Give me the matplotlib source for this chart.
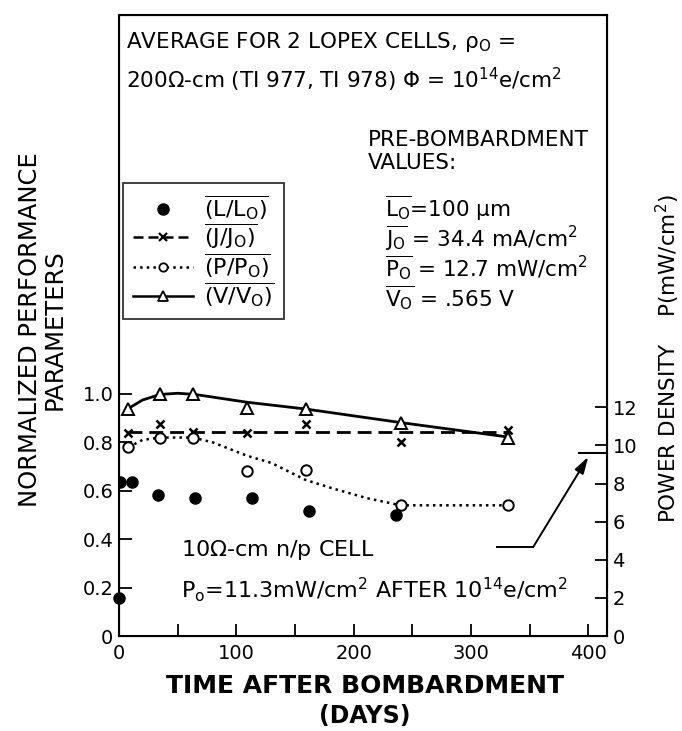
import numpy as np
import matplotlib
matplotlib.use("Agg")
from matplotlib import pyplot as plt
from matplotlib.lines import Line2D

plt.rcParams['font.family'] = ['DejaVu Sans']
plt.rcParams['mathtext.fontset'] = 'custom'
plt.rcParams['mathtext.rm'] = 'DejaVu Sans'
plt.rcParams['mathtext.it'] = 'DejaVu Sans:italic'
plt.rcParams['mathtext.default'] = 'regular'

# data (days after bombardment)
days_L = [1, 11, 33, 65, 113, 162, 236]
L_norm = [0.635, 0.635, 0.581, 0.569, 0.569, 0.515, 0.499]
days_L_ref = [0]
L_ref = [0.157]

days = [8, 35, 63, 109, 159, 240, 332]
J_norm = [0.84, 0.878, 0.845, 0.84, 0.878, 0.80, 0.853]
P_norm = [0.78, 0.82, 0.82, 0.68, 0.685, 0.54, 0.54]
V_norm = [0.94, 1.0, 1.0, 0.944, 0.94, 0.88, 0.82]

# hand drawn fit curves
J_curve_x = [8, 332]
J_curve_y = [0.845, 0.845]
P_curve_x = [8, 20, 35, 63, 80, 109, 130, 159, 182, 211, 240, 332]
P_curve_y = [0.78, 0.81, 0.82, 0.82, 0.80, 0.745, 0.715, 0.645, 0.61, 0.57, 0.54, 0.54]
V_curve_x = [8, 20, 35, 50, 65, 109, 159, 240, 332]
V_curve_y = [0.94, 0.975, 0.998, 1.003, 0.998, 0.966, 0.938, 0.882, 0.822]

P0 = 12.7          # mW/cm2, scale of right axis
P_after = 9.6      # level marked on right axis
xticks = [0, 100, 200, 300, 400]
yticks = [0.2, 0.4, 0.6, 0.8, 1.0]
ytick_labels = ['0.2', '0.4', '0.6', '0.8', '1.0']
rticks = [0, 2, 4, 6, 8, 10, 12]

W, H = 682, 731
def fx(px):
    return px / W
def fy(py):
    return 1 - py / H

fig = plt.figure(figsize=(6.82, 7.31), dpi=100)
ax = fig.add_axes([fx(119), fy(636), (607 - 119) / W, (636 - 15) / H])
ax.set_xlim(0, 416)
ax.set_ylim(0, 2.566)

# curves
ax.plot(V_curve_x, V_curve_y, '-', color='black', lw=2.0)
ax.plot(J_curve_x, J_curve_y, '--', color='black', lw=2.0, dashes=(5, 2.5))
ax.plot(P_curve_x, P_curve_y, ':', color='black', lw=1.8)
# points
ax.plot(days, V_norm, '^', ms=8, mfc='white', mec='black', mew=1.4, ls='none')
ax.plot(days, J_norm, 'x', ms=6, mec='black', mew=1.8, ls='none')
ax.plot(days, P_norm, 'o', ms=7.5, mfc='white', mec='black', mew=1.4, ls='none')
ax.plot(days_L, L_norm, 'o', ms=8, color='black', ls='none')
ax.plot(days_L_ref, L_ref, 'o', ms=8, color='black', ls='none', clip_on=False)

for s in ax.spines.values():
    s.set_linewidth(1.5)
ax.set_xticks(xticks)
ax.set_xticklabels([str(t) for t in xticks])
ax.set_xticks([50, 150, 250, 350], minor=True)
ax.set_yticks([0] + yticks)
ax.set_yticklabels(['0'] + ytick_labels)
ax.tick_params(axis='both', which='both', direction='in', length=9, width=1.3,
               labelsize=14, top=False, right=False)
ax.tick_params(axis='x', pad=6)
ax.tick_params(axis='y', pad=4)

ax2 = ax.twinx()
ax2.set_ylim(0, 2.566 * P0)
ax2.set_yticks(rticks)
ax2.set_yticklabels([str(t) for t in rticks])
ax2.tick_params(axis='y', direction='in', length=9, width=1.3, labelsize=14, pad=4)
ax2.plot([392, 416], [P_after, P_after], color='black', lw=1.5, clip_on=False)

# arrow to the 10 ohm-cm level
ax.plot([322, 353], [0.367, 0.367], color='black', lw=1.4)
ax.annotate('', xy=(400, 0.74), xytext=(353, 0.367),
            arrowprops=dict(arrowstyle='-|>,head_width=0.3,head_length=1.0',
                            color='black', lw=1.4, shrinkA=0, shrinkB=0))

# labels
fig.text(fx(30), fy(330), 'NORMALIZED PERFORMANCE', rotation=90, ha='center', va='center', fontsize=17.5)
fig.text(fx(55), fy(330), 'PARAMETERS', rotation=90, ha='center', va='center', fontsize=17.5)
fig.text(fx(668), fy(359), r'POWER DENSITY    P(mW/cm$^2$)', rotation=90, ha='center', va='center', fontsize=15.5)
fig.text(fx(365), fy(686), 'TIME AFTER BOMBARDMENT', ha='center', va='center',
         fontsize=18, fontweight='bold')
fig.text(fx(365), fy(716), '(DAYS)', ha='center', va='center', fontsize=17, fontweight='bold')

# annotations inside frame
fs = 15.5
fig.text(fx(126), fy(42), r'AVERAGE FOR 2 LOPEX CELLS, $\rho_{O}$ =', ha='left', va='center', fontsize=fs)
fig.text(fx(126), fy(80), r'200$\Omega$-cm (TI 977, TI 978) $\Phi$ = 10$^{14}$e/cm$^2$',
         ha='left', va='center', fontsize=fs)
fig.text(fx(368), fy(140), 'PRE-BOMBARDMENT', ha='left', va='center', fontsize=fs)
fig.text(fx(368), fy(163), 'VALUES:', ha='left', va='center', fontsize=fs)
fig.text(fx(385), fy(208), r'$\overline{L_O}$=100 $\mu$m', ha='left', va='center', fontsize=fs)
fig.text(fx(385), fy(238), r'$\overline{J_O}$ = 34.4 mA/cm$^2$', ha='left', va='center', fontsize=fs)
fig.text(fx(385), fy(268), r'$\overline{P_O}$ = 12.7 mW/cm$^2$', ha='left', va='center', fontsize=fs)
fig.text(fx(385), fy(298), r'$\overline{V_O}$ = .565 V', ha='left', va='center', fontsize=fs)
fig.text(fx(181), fy(550), r'10$\Omega$-cm n/p CELL', ha='left', va='center', fontsize=16)
fig.text(fx(181), fy(590), r'$P_o$=11.3mW/cm$^2$ AFTER 10$^{14}$e/cm$^2$', ha='left', va='center', fontsize=16)

# legend
handles = [
    Line2D([], [], ls='none', marker='o', ms=8, color='black'),
    Line2D([], [], ls='--', dashes=(4, 2), lw=1.8, color='black', marker='x', ms=6, mew=1.6),
    Line2D([], [], ls=':', lw=1.8, color='black', marker='o', ms=6, mfc='white', mew=1.3),
    Line2D([], [], ls='-', lw=1.8, color='black', marker='^', ms=7, mfc='white', mew=1.3),
]
labels = [r'$\overline{(L/L_O)}$', r'$\overline{(J/J_O)}$',
          r'$\overline{(P/P_O)}$', r'$\overline{(V/V_O)}$']
leg = fig.legend(handles, labels, loc='upper left', bbox_to_anchor=(fx(123), fy(183)),
                 bbox_transform=fig.transFigure, fontsize=16, frameon=True,
                 fancybox=False, edgecolor='black', handlelength=2.7,
                 handletextpad=0.5, labelspacing=0.0, borderpad=0.45,
                 borderaxespad=0)
leg.get_frame().set_linewidth(1.3)

fig.savefig('out.png', dpi=100, facecolor='white')
